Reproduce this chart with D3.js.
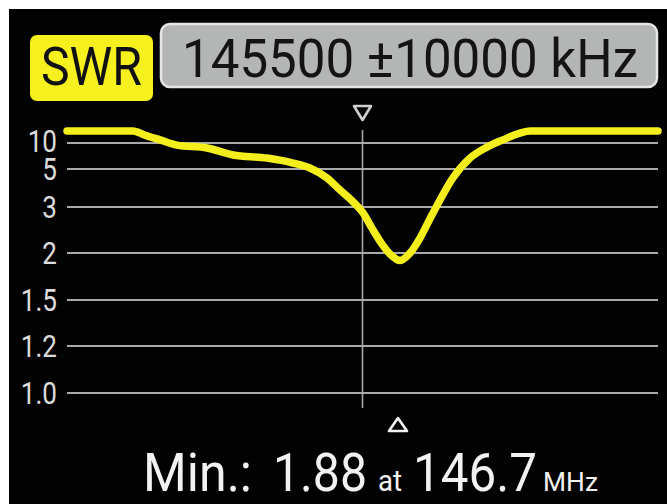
<!DOCTYPE html>
<html><head><meta charset="utf-8">
<script src="https://cdn.jsdelivr.net/npm/d3@7"></script>
<style>html,body{margin:0;padding:0;background:#fff;}svg{display:block;}</style>
</head><body>
<svg id="c" width="667" height="504"></svg>
<script>
// ---- data ----
const freqs = [135.5, 137.73, 138.14, 138.65, 139.22, 140.24, 141.12, 142.27, 143.15, 143.72, 144.30, 144.74, 145.15, 145.52, 145.82, 146.09, 146.43, 146.77, 147.11, 147.45, 147.78, 148.05, 148.56, 149.14, 149.71, 150.25, 150.83, 151.17, 155.5];
const swr   = [12.3, 12.3, 11.5, 10.6, 9.6, 9.04, 7.7, 7.1, 6.15, 5.2, 4.53, 3.89, 3.32, 2.87, 2.54, 2.26, 1.99, 1.92, 2.0, 2.33, 2.74, 3.16, 4.53, 7.1, 9.2, 10.6, 11.9, 12.3, 12.3];
const yTicks = [1.0, 1.2, 1.5, 2, 3, 5, 10];
const yTickLabels = ["1.0", "1.2", "1.5", "2", "3", "5", "10"];
const centerMHz = 145.5, spanMHz = 10;
const minSWR = "1.88", minFreq = 146.7;
const modeLabel = "SWR";
const headerLabel = "145500 ±10000 kHz";

const svg = d3.select("#c");
svg.append("rect").attr("x", 9).attr("y", 9).attr("width", 658).attr("height", 495).attr("fill", "#020202");

const x = d3.scaleLinear().domain([centerMHz - spanMHz, centerMHz + spanMHz]).range([67, 658]);
const y = d3.scaleLinear().domain(yTicks).range([393, 346, 300, 253, 207, 169, 143]);

// header
svg.append("rect").attr("x", 161).attr("y", 24).attr("width", 496).attr("height", 63).attr("rx", 9)
  .attr("fill", "#b3b6b4").attr("stroke", "#e6e6e6").attr("stroke-width", 2.5);
svg.append("text").attr("x", 182).attr("y", 77).text(headerLabel)
  .attr("font-family", "Roboto").attr("font-size", 53).attr("fill", "#141414")
  .attr("textLength", 456).attr("lengthAdjust", "spacingAndGlyphs");
svg.append("rect").attr("x", 30).attr("y", 35).attr("width", 123).attr("height", 66).attr("rx", 7)
  .attr("fill", "#f6f01e");
svg.append("text").attr("x", 41).attr("y", 85).text(modeLabel)
  .attr("font-family", "Roboto").attr("font-size", 53).attr("fill", "#111")
  .attr("textLength", 101).attr("lengthAdjust", "spacingAndGlyphs");

// grid lines
svg.append("g").selectAll("line").data(yTicks).join("line")
  .attr("x1", 67).attr("x2", 658).attr("y1", d => y(d)).attr("y2", d => y(d))
  .attr("stroke", "#a9a9a9").attr("stroke-width", 2);

// labels with black backing, bottom to top
const lg = svg.append("g");
yTicks.forEach((t, i) => {
  const g = lg.append("g");
  const off = t === 10 ? 2 : 0;
  g.append("rect").attr("x", 14).attr("y", y(t) - 14 - off).attr("width", 48).attr("height", 26).attr("fill", "#020202");
  const tx = g.append("text").attr("x", 57).attr("y", y(t) + 11 - off).attr("text-anchor", "end")
    .attr("font-family", "Roboto").attr("font-size", 31).attr("fill", "#dcdcdc").text(yTickLabels[i]);
  const w = tx.node().getComputedTextLength();
  tx.attr("textLength", w * 0.84).attr("lengthAdjust", "spacingAndGlyphs");
});

// center marker line
svg.append("line").attr("x1", x(centerMHz)).attr("x2", x(centerMHz)).attr("y1", 130).attr("y2", 408)
  .attr("stroke", "#a9a9a9").attr("stroke-width", 1.6);

// curve
const line = d3.line().x((d, i) => x(freqs[i])).y(d => y(d)).curve(d3.curveMonotoneX);
svg.append("path").attr("d", line(swr)).attr("fill", "none").attr("stroke", "#f4ef1c")
  .attr("stroke-width", 7.5).attr("stroke-linecap", "round").attr("stroke-linejoin", "round");

// triangles
const cx = x(centerMHz);
svg.append("path").attr("d", `M${cx - 8.5},106 L${cx + 8.5},106 L${cx},120 Z`)
  .attr("fill", "none").attr("stroke", "#cfcfcf").attr("stroke-width", 2.6).attr("stroke-linejoin", "round");
const mx = x(minFreq);
svg.append("path").attr("d", `M${mx},418 L${mx + 9},431 L${mx - 9},431 Z`)
  .attr("fill", "none").attr("stroke", "#f2f2f2").attr("stroke-width", 2.6).attr("stroke-linejoin", "round");

// bottom text
const bt = svg.append("g").attr("font-family", "Roboto").attr("fill", "#f2f2f2");
function put(txt, xx, size, len) {
  bt.append("text").attr("x", xx).attr("y", 491).attr("font-size", size).text(txt)
    .attr("textLength", len).attr("lengthAdjust", "spacingAndGlyphs");
}
put("Min.:", 143, 53, 109);
put(minSWR, 273, 53, 94);
put("at", 378, 30, 24);
put(String(minFreq), 413, 53, 124);
put("MHz", 543, 25, 55);
</script>
</body></html>
